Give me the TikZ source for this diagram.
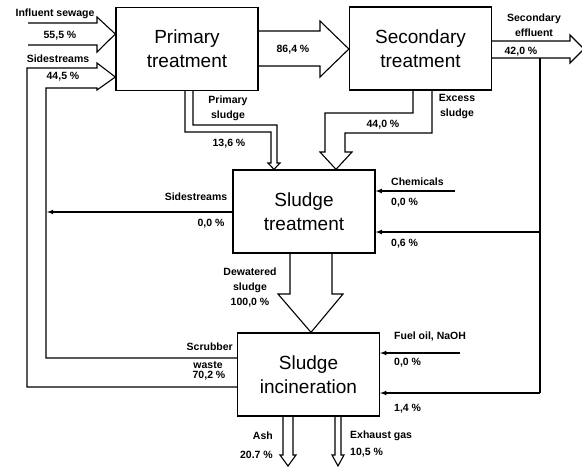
\documentclass[tikz,border=0pt]{standalone}
\usepackage{fontspec}
\setmainfont{Liberation Sans}
\usepackage{tikz}
\usetikzlibrary{shapes,arrows,positioning,calc}

\tikzset{
  proc/.style={draw, line width=1.3pt, minimum width=142pt, minimum height=83pt,
    inner sep=0pt, align=center, font=\fontsize{19}{24}\selectfont},
  lbl/.style={inner sep=0pt, align=center, font=\fontsize{10.5}{15}\selectfont\bfseries},
  flow/.style={line width=1.1pt, line join=miter},
  feed/.style={line width=1.1pt, -latex}
}

\begin{document}
\begin{tikzpicture}[x=1pt, y=-1pt]
\useasboundingbox (0,0) rectangle (582,467);

% process boxes
\node[proc] (prim) at (187,49) {Primary\\treatment};
\node[proc] (sec) at (420.5,48.5) {Secondary\\treatment};
\node[proc] (st) at (304,211.5) {Sludge\\treatment};
\node[proc] (inc) at (308.5,374.5) {Sludge\\incineration};

% influent sewage
\draw[flow] (28,23) -- (97,23) -- (97,17) -- (prim.west |- 0,34) -- (97,52) -- (97,45) -- (28,45);
% sidestreams back to primary
\draw[flow] (inc.west |- 0,387) -- (27,387) -- (27,68) -- (97,68) -- (97,63) -- (prim.west |- 0,77)
  -- (97,90) -- (97,88) -- (46,88) -- (46,358) -- (inc.west |- 0,358);
% primary -> secondary
\draw[flow] (prim.east |- 0,31) -- (320,31) -- (320,21) -- (sec.west |- 0,49) -- (320,77) -- (320,66) -- (prim.east |- 0,66);
% secondary effluent
\draw[flow] (sec.east |- 0,41) -- (570,41) -- (570,35) -- (584,49) -- (570,63) -- (570,58) -- (sec.east |- 0,58);
% primary sludge
\draw[flow] (prim.south -| 185,0) -- (185,132) -- (271,132) -- (271,163) -- (268,163) -- (st.north -| 274,0)
  -- (280,163) -- (277,163) -- (277,125) -- (193,125) -- (prim.south -| 193,0);
% excess sludge
\draw[flow] (sec.south -| 413,0) -- (413,113) -- (325,113) -- (325,152) -- (320,152) -- (st.north -| 336,0)
  -- (352,152) -- (345,152) -- (345,133) -- (432,133) -- (sec.south -| 432,0);
% dewatered sludge
\draw[flow] (st.south -| 290,0) -- (290,294) -- (278,294) -- (inc.north -| 311,0) -- (343,294) -- (332,294) -- (st.south -| 332,0);
% ash and exhaust gas
\draw[flow] (inc.south -| 283,0) -- (283,455) -- (280,455) -- (288,466) -- (296,455) -- (293,455) -- (inc.south -| 293,0);
\draw[flow] (inc.south -| 335,0) -- (335,455) -- (332,455) -- (338,466) -- (344,455) -- (341,455) -- (inc.south -| 341,0);

% thin feed lines
\coordinate (chem) at (455,191);
\coordinate (fuel) at (460,353);
\coordinate (split) at (540,232);
\draw[line width=1.1pt] (540,58) -- (540,393);
\draw[feed] (540,393) -- (inc.east |- 0,393);
\draw[feed] (split) -- (st.east |- split);
\draw[feed] (chem) -- (st.east |- chem);
\draw[feed] (fuel) -- (inc.east |- fuel);
\draw[feed] (st.west |- 0,212) -- (47,212);

% labels
\node[lbl] (l1) at (55,14) {Influent sewage};
\node[lbl] (l2) at (60,36) {55,5 \%};
\node[lbl] (l3) at (58,59) {Sidestreams};
\node[lbl] (l4) at (63,77) {44,5 \%};
\node[lbl] (l5) at (293,50) {86,4 \%};
\node[lbl] (l6) at (534,25) {Secondary\\effluent};
\node[lbl] (l7) at (521,52) {42,0 \%};
\node[lbl] (l8) at (228,108) {Primary\\sludge};
\node[lbl] (l9) at (229,144) {13,6 \%};
\node[lbl] (l10) at (457,106) {Excess\\sludge};
\node[lbl] (l11) at (383,125) {44,0 \%};
\node[lbl] (l12) at (196,197) {Sidestreams};
\node[lbl] (l13) at (211,224) {0,0 \%};
\node[lbl, anchor=west] (l14) at (391,182) {Chemicals};
\node[lbl, anchor=west] (l15) at (391,203) {0,0 \%};
\node[lbl, anchor=west] (l16) at (391,244) {0,6 \%};
\node[lbl] (l17) at (250,288) {Dewatered\\sludge\\100,0 \%};
\node[lbl, anchor=east] (l18) at (233,347) {Scrubber};
\node[lbl] (l19) at (208,365) {waste};
\node[lbl] (l20) at (209,376) {70,2 \%};
\node[lbl, anchor=west] (l21) at (394,337) {Fuel oil, NaOH};
\node[lbl, anchor=west] (l22) at (394,363) {0,0 \%};
\node[lbl, anchor=west] (l23) at (394,409) {1,4 \%};
\node[lbl, anchor=east] (l24) at (273,436) {Ash};
\node[lbl, anchor=east] (l25) at (273,455) {20.7 \%};
\node[lbl, anchor=west] (l26) at (350,436) {Exhaust gas};
\node[lbl, anchor=west] (l27) at (350,453) {10,5 \%};
\end{tikzpicture}
\end{document}
